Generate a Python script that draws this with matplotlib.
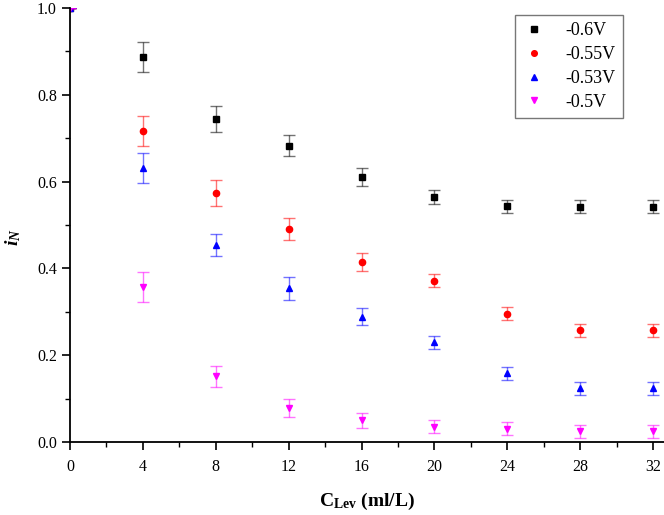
import matplotlib
matplotlib.use("Agg")
import matplotlib.pyplot as plt
from matplotlib.ticker import MultipleLocator, FormatStrFormatter

plt.rcParams['font.family'] = ['Liberation Serif', 'DejaVu Serif']
plt.rcParams['mathtext.fontset'] = 'custom'
plt.rcParams['mathtext.rm'] = 'Liberation Serif'
plt.rcParams['mathtext.it'] = 'Liberation Serif:italic'
plt.rcParams['mathtext.bf'] = 'Liberation Serif:bold'
plt.rcParams['mathtext.bfit'] = 'Liberation Serif:bold:italic'

conc = [0, 4, 8, 12, 16, 20, 24, 28, 32]
labels = ['-0.6V', '-0.55V', '-0.53V', '-0.5V']
v06 = [1.0, 0.887, 0.744, 0.683, 0.611, 0.565, 0.543, 0.542, 0.542]
e06 = [0.0, 0.035, 0.03, 0.025, 0.02, 0.016, 0.015, 0.015, 0.015]
v055 = [1.0, 0.717, 0.574, 0.491, 0.415, 0.372, 0.296, 0.258, 0.258]
e055 = [0.0, 0.035, 0.03, 0.025, 0.02, 0.016, 0.015, 0.015, 0.015]
v053 = [1.0, 0.631, 0.454, 0.354, 0.289, 0.230, 0.158, 0.124, 0.124]
e053 = [0.0, 0.035, 0.025, 0.026, 0.02, 0.015, 0.015, 0.015, 0.015]
v05 = [1.0, 0.357, 0.151, 0.078, 0.050, 0.035, 0.030, 0.025, 0.025]
e05 = [0.0, 0.035, 0.025, 0.02, 0.017, 0.015, 0.015, 0.015, 0.015]

series = [v06, v055, v053, v05]
errors = [e06, e055, e053, e05]
colors = ['black', 'red', 'blue', 'magenta']
markers = ['s', 'o', '^', 'v']

W, H = 664, 515
fig = plt.figure(figsize=(W / 100, H / 100), dpi=100)
ax = fig.add_axes([70 / W, (H - 442) / H, 1 - 70 / W, (442 - 8) / H])

for vals, errs, c, m, lab in zip(series, errors, colors, markers, labels):
    ax.errorbar(conc, vals, yerr=errs, fmt='none', ecolor=c, alpha=0.55,
                elinewidth=1.0, capsize=4.5, capthick=1.0)
    ax.plot(conc, vals, linestyle='none', marker=m, color=c, markersize=4.5,
            label=lab)

ax.set_xlim(0, 32.6)
ax.set_ylim(0, 1.0)
ax.xaxis.set_major_locator(MultipleLocator(4))
ax.xaxis.set_minor_locator(MultipleLocator(2))
ax.yaxis.set_major_locator(MultipleLocator(0.2))
ax.yaxis.set_minor_locator(MultipleLocator(0.1))
ax.yaxis.set_major_formatter(FormatStrFormatter('%.1f'))
ax.spines['top'].set_visible(False)
ax.spines['right'].set_visible(False)
ax.spines['left'].set_linewidth(1.3)
ax.spines['bottom'].set_linewidth(1.3)
ax.tick_params(which='major', direction='out', length=6, width=1.2, labelsize=11.5)
ax.tick_params(which='minor', direction='out', length=3.5, width=1.0)
ax.tick_params(axis='x', pad=6)

ax.set_xlabel(r'$\mathbf{C}_{\mathbf{Lev}}$ (ml/L)', fontsize=14, fontweight='bold',
              labelpad=12)
fig.text(13 / W, 1 - 237 / H, r'$\mathbfit{i}_{\mathbfit{N}}$', fontsize=14,
         rotation=90, ha='center', va='center')

leg = ax.legend(loc='upper right',
                bbox_to_anchor=((623 - 70) / (W - 70), (442 - 15) / 434),
                bbox_transform=ax.transAxes, borderaxespad=0, frameon=True,
                fancybox=False, fontsize=13, handlelength=1.3,
                handletextpad=1.1, borderpad=0.4, labelspacing=0.38,
                markerscale=0.9)
leg.get_frame().set_edgecolor('#555555')
leg.get_frame().set_linewidth(1.0)

fig.savefig('out.png', dpi=100)
